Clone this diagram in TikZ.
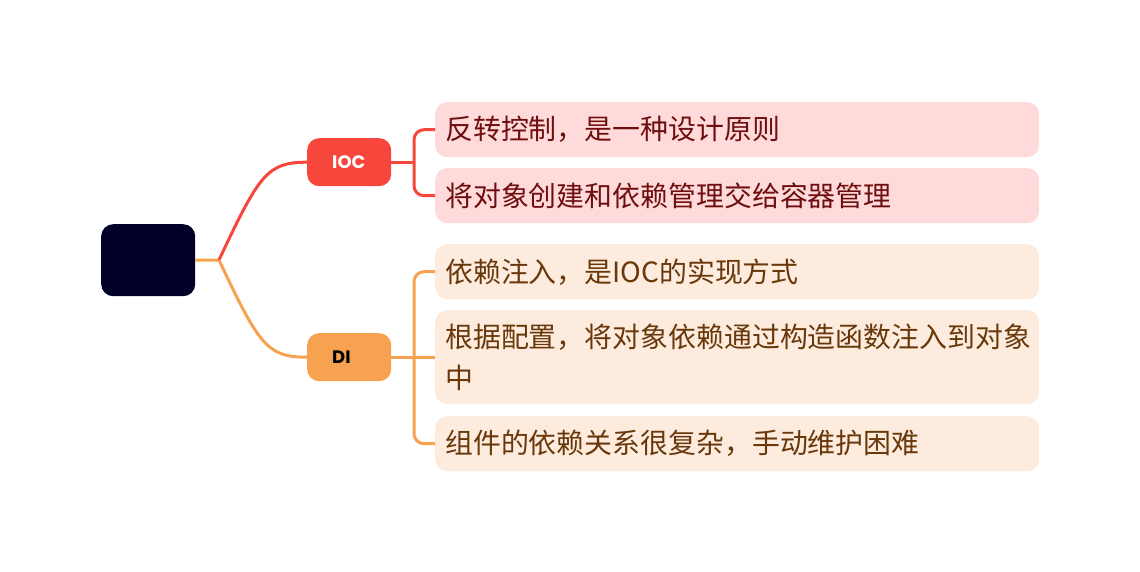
\documentclass[tikz,border=0pt]{standalone}
\usepackage{fontspec}
\setmainfont{Poppins}
\newfontfamily\cjk{Noto Sans CJK SC}
\definecolor{rootc}{RGB}{0,0,40}
\definecolor{iocc}{RGB}{247,70,60}
\definecolor{dic}{RGB}{247,162,80}
\definecolor{pinkf}{RGB}{255,218,218}
\definecolor{pinkt}{RGB}{110,14,14}
\definecolor{peachf}{RGB}{253,235,221}
\definecolor{peacht}{RGB}{104,56,10}
\begin{document}
\begin{tikzpicture}[x=1pt,y=-1pt,
  branch/.style={rounded corners=12pt, minimum width=84pt, minimum height=48pt, text width=34pt, inner xsep=25pt, inner ysep=0pt, align=left, font=\fontsize{18}{20}\selectfont\bfseries},
  leaf/.style={rounded corners=12pt, anchor=north west, minimum width=604pt, text width=590pt, inner xsep=7pt, inner ysep=0pt, align=left, font=\cjk\fontsize{27.9}{41}\selectfont},
  pinkleaf/.style={leaf, fill=pinkf, text=pinkt},
  peachleaf/.style={leaf, fill=peachf, text=peacht},
  redline/.style={draw=iocc, line width=3pt},
  orline/.style={draw=dic, line width=3pt},
]
\useasboundingbox (0,0) rectangle (1140,572);
\node[fill=rootc, rounded corners=12pt, minimum width=94pt, minimum height=72pt, inner sep=0pt, anchor=north west] (root) at (101,224) {};
\node[branch, fill=iocc, text=white, anchor=north west] (ioc) at (307,138) {IOC};
\node[branch, fill=dic, text=black, anchor=north west] (di) at (307,333) {DI};

\node[pinkleaf, minimum height=55pt] (a1) at (435,102) {\hspace*{3pt}反转控制，是一种设计原则};
\node[pinkleaf, minimum height=55pt] (a2) at (435,168) {\hspace*{3pt}将对象创建和依赖管理交给容器管理};
\node[peachleaf, minimum height=55pt] (b1) at (435,244) {\hspace*{3pt}依赖注入，是IOC的实现方式};
\node[peachleaf, minimum height=94pt] (b2) at (435,310) {\hspace*{3pt}根据配置，将对象依赖通过构造函数注入到对象\\\hspace*{3pt}中};
\node[peachleaf, minimum height=55pt] (b3) at (435,416) {\hspace*{3pt}组件的依赖关系很复杂，手动维护困难};

\coordinate (fork) at (219,260);
\coordinate (ba) at ([xshift=-21pt]a1.west);
\draw[orline] (root.east) -- (fork);
\draw[redline] (fork) .. controls +(40,-85) and +(-40,0) .. (ioc.west);
\draw[orline] (fork) .. controls +(40,85) and +(-40,0) .. (di.west);

\draw[redline] (ioc.east) -- (ioc.east -| ba);
\draw[redline, rounded corners=10pt] (a1.west) -- ++(-21,0) |- (a2.west);

\draw[orline] (di.east) -- (b2.west);
\draw[orline, rounded corners=10pt] (b1.west) -- ++(-21,0) |- (b3.west);
\end{tikzpicture}
\end{document}
